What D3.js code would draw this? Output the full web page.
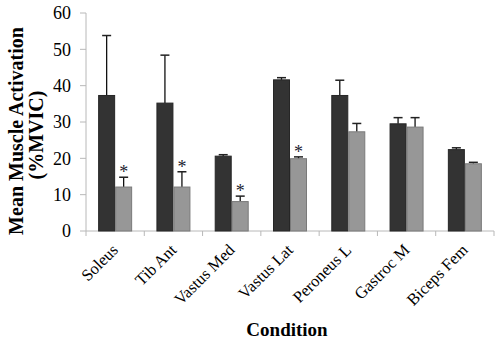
<!DOCTYPE html>
<html lang="en">
<head>
  <meta charset="UTF-8" />
  <title>Mean Muscle Activation</title>
  <script src="https://d3js.org/d3.v7.min.js"></script>
  <style>
    body {
      margin: 0;
      background: #fff;
    }
    svg {
      display: block;
      font-family: "Liberation Serif", "DejaVu Serif", serif;
    }
    .tick-label {
      font-size: 18px;
      fill: #000;
    }
    .cat-label {
      font-size: 16.5px;
      fill: #000;
    }
    .title {
      font-size: 20px;
      font-weight: bold;
      fill: #000;
    }
  </style>
</head>
<body>
  <svg id="chart" width="500" height="342"></svg>

  <script>
    const categories = ["Soleus", "Tib Ant", "Vastus Med", "Vastus Lat", "Peroneus L", "Gastroc M", "Biceps Fem"];
    const darkMeans = [37.3, 35.2, 20.6, 41.6, 37.3, 29.5, 22.4];
    const darkErr   = [16.5, 13.2, 0.4, 0.6, 4.2, 1.7, 0.5];
    const grayMeans = [12.1, 12.1, 8.1, 19.9, 27.3, 28.6, 18.5];
    const grayErr   = [2.7, 4.2, 1.5, 0.5, 2.3, 2.6, 0.4];
    const starred   = [true, true, true, true, false, false, false];
    const yTicks = [0, 10, 20, 30, 40, 50, 60];

    const svg = d3.select("#chart");
    const plot = { left: 86, right: 494, top: 13, bottom: 231 };

    const x0 = d3.scaleBand()
      .domain(categories)
      .range([plot.left, plot.right])
      .padding(0);

    const barW = 17;
    const x1 = d3.scaleBand()
      .domain(["dark", "gray"])
      .range([x0.bandwidth() / 2 - barW, x0.bandwidth() / 2 + barW]);

    const y = d3.scaleLinear()
      .domain([0, 60])
      .range([plot.bottom, plot.top]);

    const axisColor = "#b8b8b8";

    // y axis
    svg.append("line")
      .attr("x1", plot.left).attr("x2", plot.left)
      .attr("y1", y(60)).attr("y2", plot.bottom)
      .attr("stroke", axisColor);

    svg.selectAll(".ytick")
      .data(yTicks)
      .join("line")
      .attr("class", "ytick")
      .attr("x1", plot.left - 6).attr("x2", plot.left)
      .attr("y1", d => y(d)).attr("y2", d => y(d))
      .attr("stroke", axisColor);

    svg.selectAll(".ylab")
      .data(yTicks)
      .join("text")
      .attr("class", "tick-label ylab")
      .attr("x", plot.left - 15)
      .attr("y", d => y(d))
      .attr("dy", "0.35em")
      .attr("text-anchor", "end")
      .text(d => d);

    // x axis
    svg.append("line")
      .attr("x1", plot.left).attr("x2", plot.right)
      .attr("y1", plot.bottom).attr("y2", plot.bottom)
      .attr("stroke", axisColor);

    const boundaries = categories.map(c => x0(c)).concat([plot.right]);
    svg.selectAll(".xtick")
      .data(boundaries)
      .join("line")
      .attr("class", "xtick")
      .attr("x1", d => d).attr("x2", d => d)
      .attr("y1", plot.bottom).attr("y2", plot.bottom + 5)
      .attr("stroke", axisColor);

    const rows = categories.map((c, i) => ({
      cat: c,
      bars: [
        { key: "dark", v: darkMeans[i], e: darkErr[i], star: false },
        { key: "gray", v: grayMeans[i], e: grayErr[i], star: starred[i] }
      ]
    }));

    const groups = svg.selectAll(".grp")
      .data(rows)
      .join("g")
      .attr("class", "grp")
      .attr("transform", d => `translate(${x0(d.cat)},0)`);

    const fills = { dark: "#333333", gray: "#979797" };
    const edges = { dark: "#262626", gray: "#7a7a7a" };

    const bar = groups.selectAll(".bar")
      .data(d => d.bars)
      .join("g")
      .attr("class", "bar");

    const mid = d => x1(d.key) + x1.bandwidth() / 2;

    // error bars first (upward only)
    bar.append("line")
      .attr("x1", mid)
      .attr("x2", mid)
      .attr("y1", d => y(d.v))
      .attr("y2", d => y(d.v + d.e))
      .attr("stroke", "#111")
      .attr("stroke-width", 1.3);

    bar.append("line")
      .attr("x1", d => mid(d) - 4.5)
      .attr("x2", d => mid(d) + 4.5)
      .attr("y1", d => y(d.v + d.e))
      .attr("y2", d => y(d.v + d.e))
      .attr("stroke", "#222")
      .attr("stroke-width", 1.5);

    bar.append("rect")
      .attr("x", d => x1(d.key) + 0.5)
      .attr("y", d => y(d.v))
      .attr("width", x1.bandwidth() - 1)
      .attr("height", d => plot.bottom - y(d.v))
      .attr("fill", d => fills[d.key])
      .attr("stroke", d => edges[d.key])
      .attr("stroke-width", 1);

    bar.filter(d => d.star)
      .append("text")
      .attr("x", mid)
      .attr("y", d => y(d.v + d.e) + 1)
      .attr("text-anchor", "middle")
      .attr("font-size", 18)
      .attr("fill", "#1c2330")
      .text("*");

    // rotated category labels
    const xlab = svg.selectAll(".xlab")
      .data(categories)
      .join("g")
      .attr("class", "xlab")
      .attr("transform", d => `translate(${x0(d) + x0.bandwidth() / 2 + 4},${plot.bottom + 20})`);

    xlab.append("text")
      .attr("class", "cat-label")
      .attr("text-anchor", "end")
      .attr("transform", "rotate(-45)")
      .text(d => d);

    // axis titles
    svg.append("text")
      .attr("class", "title")
      .attr("text-anchor", "middle")
      .attr("transform", `translate(23,131) rotate(-90)`)
      .text("Mean Muscle Activation");

    svg.append("text")
      .attr("class", "title")
      .attr("text-anchor", "middle")
      .attr("transform", `translate(43,135) rotate(-90)`)
      .text("(%MVIC)");

    svg.append("text")
      .attr("class", "title")
      .attr("x", 287)
      .attr("y", 336)
      .attr("text-anchor", "middle")
      .style("font-size", "19px")
      .text("Condition");
  </script>
</body>
</html>
